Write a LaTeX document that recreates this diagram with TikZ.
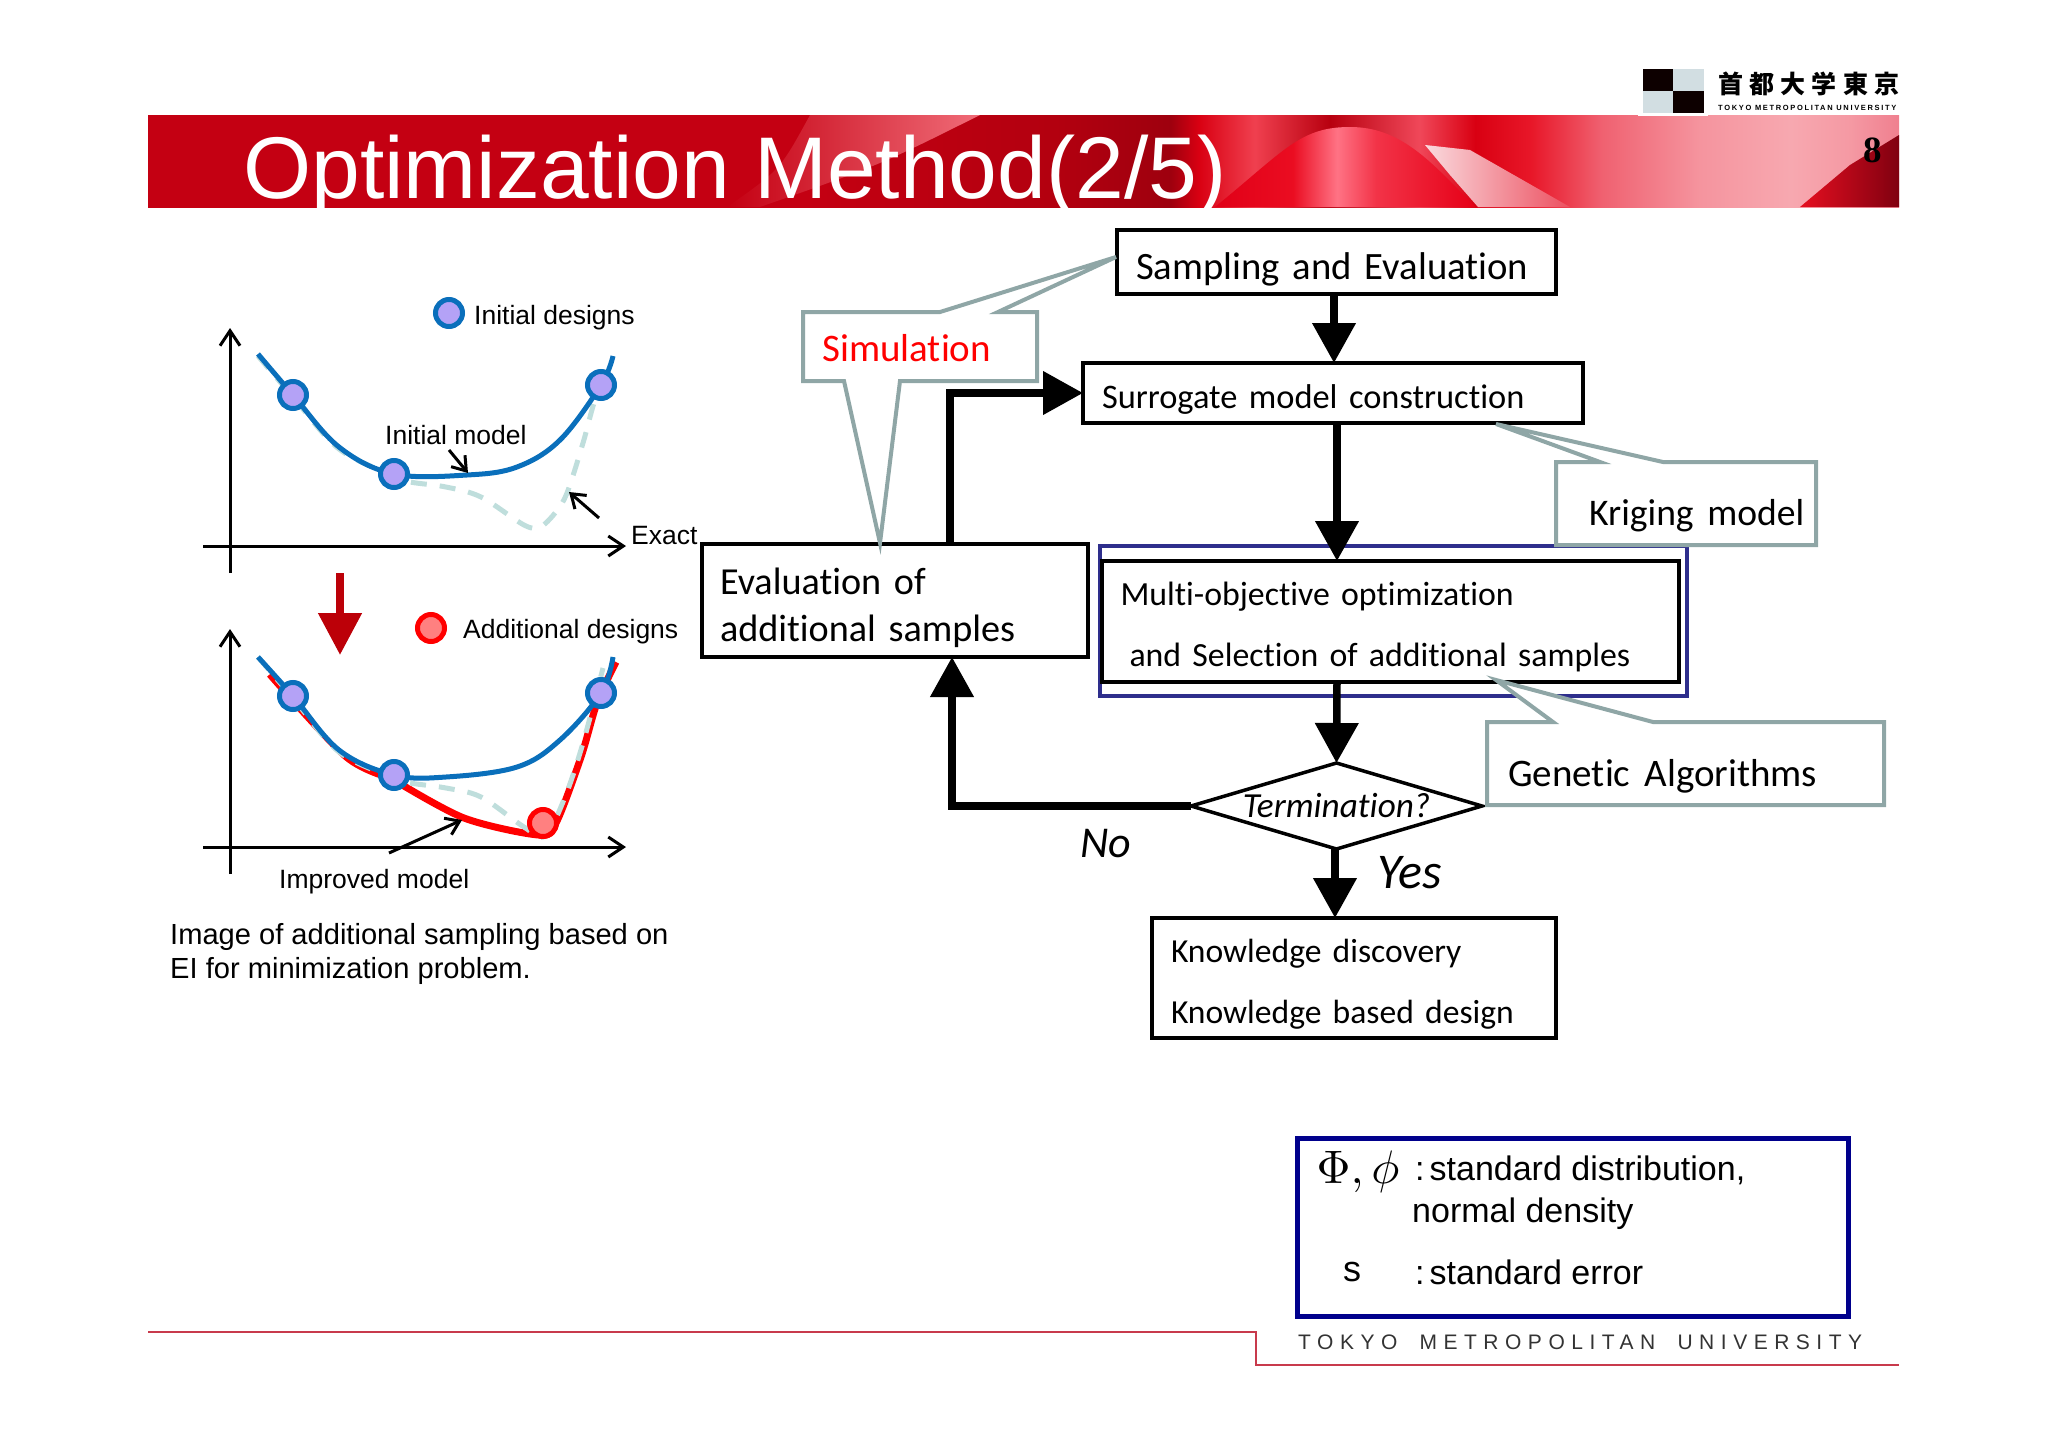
\documentclass[tikz,border=0pt]{standalone}
\usepackage{fontspec}
\setmainfont{Liberation Sans}
\newfontfamily\flowfont[WordSpace=1.6,Ligatures=CommonOff]{Carlito}
\newfontfamily\cjkfont{Noto Sans CJK JP}
\newfontfamily\serifbold{Liberation Serif}
\newfontfamily\footfont[LetterSpace=31,WordSpace=1.8]{Liberation Sans}
\usetikzlibrary{arrows.meta,shapes.geometric}
\newcommand{\fsz}[1]{\fontsize{#1}{#1}\selectfont}
\newcommand{\lowstrut}[1]{\rule{0pt}{#1pt}}
\definecolor{calloutgray}{HTML}{8FA6A6}
\definecolor{curveblue}{HTML}{0A6FBB}
\definecolor{ptfill}{HTML}{B4A2F6}
\definecolor{exactdash}{HTML}{BFDEDC}
\definecolor{framenavy}{HTML}{2E2E8C}
\definecolor{boxnavy}{HTML}{00008C}
\definecolor{downred}{HTML}{BC0008}
\definecolor{footred}{HTML}{C83A4C}
\definecolor{lightlogo}{HTML}{D2DEE2}
\definecolor{bandred}{HTML}{C40012}
\definecolor{wavepink}{HTML}{F06C78}
\definecolor{streakwhite}{HTML}{FADADE}
\definecolor{streakred}{HTML}{EC5060}
\definecolor{cornerred}{HTML}{E60F20}
\definecolor{cornerdark}{HTML}{800010}
\pgfdeclarehorizontalshading{bandshade}{100bp}{
 rgb(0bp)=(0.77,0,0.07);
 rgb(43.6bp)=(0.77,0,0.07);
 rgb(51bp)=(0.70,0,0.06);
 rgb(54.2bp)=(0.62,0,0.055);
 rgb(55bp)=(0.85,0,0.07);
 rgb(56.6bp)=(0.94,0.25,0.31);
 rgb(58.75bp)=(0.72,0,0.06);
 rgb(61.3bp)=(0.94,0.28,0.35);
 rgb(62.9bp)=(0.85,0,0.07);
 rgb(64.5bp)=(0.91,0.09,0.16);
 rgb(66.5bp)=(0.94,0.38,0.44);
 rgb(69.3bp)=(0.96,0.58,0.62);
 rgb(71.9bp)=(0.97,0.66,0.69);
 rgb(73.6bp)=(0.96,0.60,0.64);
 rgb(75bp)=(0.94,0.50,0.56);
 rgb(100bp)=(0.94,0.50,0.56)}
\pgfdeclarehorizontalshading{humpshade}{100bp}{
 rgb(0bp)=(0.88,0,0.09);
 rgb(25bp)=(0.88,0,0.09);
 rgb(40bp)=(0.92,0.05,0.13);
 rgb(48.5bp)=(1,0.45,0.52);
 rgb(56bp)=(0.95,0.2,0.28);
 rgb(75bp)=(0.90,0,0.09);
 rgb(100bp)=(0.90,0,0.09)}
\tikzset{
 fbox/.style={draw=black,line width=3.5pt,fill=white,inner sep=0pt,outer sep=0pt,align=left,text=black},
 callout/.style={draw=calloutgray,line width=4pt,fill=white,line join=miter},
 calltext/.style={inner sep=0pt,anchor=west},
 flowarrow/.style={line width=7.5pt,-{Triangle[length=40pt,width=42pt]}},
 axisline/.style={line width=3pt,-{Straight Barb[length=15pt,width=20pt]}},
 noteline/.style={line width=3pt,-{Straight Barb[length=13pt,width=18pt]}},
 labeltext/.style={inner sep=0pt,anchor=west,font=\fsz{26.5}},
 bluecurve/.style={draw=curveblue,line width=5pt},
 redcurve/.style={draw=red,line width=7pt},
 exactcurve/.style={draw=exactdash,line width=5pt,dash pattern=on 16pt off 13pt},
 initpt/.style={circle,draw=curveblue,fill=ptfill,line width=5pt,minimum size=27pt,inner sep=0pt},
 addpt/.style={circle,draw=red,fill=red!50!white,line width=5pt,minimum size=27pt,inner sep=0pt},
 infotext/.style={inner sep=0pt,anchor=west,font=\fsz{34}},
}
\begin{document}
\begin{tikzpicture}[x=1pt,y=-1pt]
\useasboundingbox (0,0) rectangle (2048,1448);
% header band
\begin{scope}
\clip (148,115) rectangle (1899,207);
\shade[shading=bandshade] (148,115) rectangle (1899,207);
\shade[left color=bandred,right color=wavepink] (727,207) .. controls (780,170) .. (810,115) -- (980,115) .. controls (880,165) .. (760,207) -- cycle;
\shade[shading=humpshade] (1215,207) .. controls (1285,150) and (1300,127) .. (1350,127) .. controls (1400,127) and (1430,160) .. (1475,207) -- cycle;
\shade[left color=streakwhite,right color=streakred] (1425,145) -- (1470,150) -- (1570,207) -- (1478,207) -- (1450,175) -- cycle;
\shade[left color=cornerred,right color=cornerdark] (1800,207) -- (1850,165) -- (1899,135) -- (1899,207) -- cycle;
\end{scope}
\node[inner sep=0pt,anchor=base west,text=white,font=\fsz{87.6}] (title) at (243,198) {Optimization Method(2/5)};
\node[inner sep=0pt,text=black,font=\serifbold\bfseries\fsz{37}] (pageno) at (1873,150) {8};
% logo
\fill[white] (1638,66) rectangle (1708,116);
\fill[black!95!red] (1643,69) rectangle (1673,91);
\fill[lightlogo] (1673,69) rectangle (1704,91);
\fill[lightlogo] (1643,91) rectangle (1673,113);
\fill[black!95!red] (1673,91) rectangle (1704,113);
\node[inner sep=0pt,anchor=west,font=\cjkfont\bfseries\fsz{25}] (logoja) at (1718,84) {\addfontfeature{LetterSpace=25}首都大学東京};
\node[inner sep=0pt,anchor=west,font=\bfseries\fsz{7.5}] (logoen) at (1718,108) {\addfontfeature{LetterSpace=22}TOKYO METROPOLITAN UNIVERSITY};
% upper chart
\coordinate (ya1) at (230,573); \coordinate (yb1) at (230,328);
\coordinate (xa1) at (203,546); \coordinate (xb1) at (626,546);
\draw[axisline] (ya1) -- (yb1);
\draw[axisline] (xa1) -- (xb1);
\draw[exactcurve] plot[smooth,tension=.55] coordinates {(258,356) (293,397) (339,449) (394,476) (410,482) (446,487) (481,497) (524,525) (540,527) (555,513) (567,493) (583,443) (594,403) (606,372)};
\draw[bluecurve] plot[smooth,tension=.6] coordinates {(258,354) (293,395) (339,447) (394,474) (467,475) (517,467) (560,440) (601,385) (613,356)};
\node[initpt] (a1) at (293,395) {};
\node[initpt] (a2) at (394,474) {};
\node[initpt] (a3) at (601,385) {};
\node[initpt] (legi) at (449,313) {};
\node[labeltext] (legitext) at (474,318) {Initial designs};
\node[labeltext] (imodel) at (385,435) {Initial model};
\coordinate (imtip) at (468,473); \coordinate (imtail) at (449,450);
\draw[noteline] (imtail) -- (imtip);
\coordinate (extip) at (569,492); \coordinate (extail) at (599,518);
\draw[noteline] (extail) -- (extip);
\node[labeltext] (exact) at (631,536) {Exact};
% red down arrow
\coordinate (rda) at (340,573); \coordinate (rdb) at (340,655);
\draw[downred,line width=8pt,-{Triangle[length=42pt,width=42pt]}] (rda) -- (rdb);
% lower chart
\coordinate (ya2) at (230,874); \coordinate (yb2) at (230,629);
\coordinate (xa2) at (203,847); \coordinate (xb2) at (626,847);
\draw[axisline] (ya2) -- (yb2);
\draw[axisline] (xa2) -- (xb2);
\draw[redcurve,line width=5pt] plot[smooth,tension=.5] coordinates {(269,675) (346,758) (394,780)};
\draw[redcurve] plot[smooth,tension=.5] coordinates {(394,780) (464,818) (539,835) (556,823) (581,757) (597,703) (616,662)};
\draw[exactcurve] plot[smooth,tension=.55] coordinates {(258,657) (293,698) (339,752) (394,778) (410,783) (446,788) (481,797) (524,827) (545,836) (565,797) (583,743) (603,668)};
\draw[bluecurve] plot[smooth,tension=.6] coordinates {(258,657) (293,696) (339,750) (394,775) (446,777) (517,767) (560,740) (601,693) (613,657)};
\node[initpt] (b1) at (293,696) {};
\node[initpt] (b2) at (394,775) {};
\node[initpt] (b3) at (601,693) {};
\node[addpt] (b4) at (543,823) {};
\node[addpt] (lega) at (431,628) {};
\node[labeltext] (legatext) at (463,632) {Additional designs};
\coordinate (imptail) at (389,853); \coordinate (imptip) at (462,820);
\draw[noteline] (imptail) -- (imptip);
\node[labeltext] (impmodel) at (279,882) {Improved model};
\node[labeltext,font=\fsz{29.1}] (cap1) at (170,937) {Image of additional sampling based on};
\node[labeltext,font=\fsz{29.1}] (cap2) at (170,971) {EI for minimization problem.};
% flow boxes
\node[draw=framenavy,line width=4pt,minimum width=587pt,minimum height=150pt,inner sep=0pt] (frame) at (1393.5,621) {};
\node[fbox,minimum width=439pt,minimum height=64pt,text width=401pt,font=\flowfont\fsz{38.7}] (samp) at (1336.5,262) {\lowstrut{41}Sampling and Evaluation};
\node[fbox,minimum width=500pt,minimum height=60pt,text width=462pt,font=\flowfont\fsz{34.4}] (surr) at (1333,393) {\lowstrut{36}Surrogate model construction};
\node[fbox,minimum width=386pt,minimum height=113pt,text width=350pt,font=\flowfont\fontsize{38.2}{47}\selectfont] (eval) at (895,600.5) {\lowstrut{41}Evaluation of\\additional samples};
\node[fbox,minimum width=577pt,minimum height=121pt,text width=540pt,font=\flowfont\fontsize{33.8}{61}\selectfont] (multi) at (1390.5,621.5) {\lowstrut{35}Multi-objective optimization\\\hspace*{9pt}and Selection of additional samples};
\node[diamond,draw=black,line width=3.5pt,fill=white,minimum width=291pt,minimum height=86pt,aspect=3.38,inner sep=0pt,outer sep=0pt] (term) at (1336.5,806) {\makebox[0pt]{\smash{\raisebox{-11pt}{\flowfont\fsz{35.2}\itshape Termination?}}}};
\node[fbox,minimum width=404pt,minimum height=120pt,text width=366pt,font=\flowfont\fontsize{33.6}{61}\selectfont] (know) at (1354,978) {\lowstrut{35}Knowledge discovery\\Knowledge based design};
% callouts
\draw[callout] (803,312) -- (940,312) -- (1116,257) -- (998,312) -- (1037,312) -- (1037,381) -- (900,381) -- (880,543) -- (844,381) -- (803,381) -- cycle;
\node[calltext,text=red,font=\flowfont\fsz{39}] (sim) at (822,348) {Simulation};
\draw[callout] (1556,462) -- (1600,462) -- (1496,424) -- (1663,462) -- (1816,462) -- (1816,545) -- (1556,545) -- cycle;
\node[calltext,font=\flowfont\fsz{37.6}] (krig) at (1589,516) {Kriging model};
\draw[callout] (1487,722) -- (1553,722) -- (1496,680) -- (1653,722) -- (1884,722) -- (1884,805) -- (1487,805) -- cycle;
\node[calltext,font=\flowfont\fsz{39}] (gen) at (1508,776) {Genetic Algorithms};
% flow connectors
\draw[flowarrow] ([xshift=-2.5pt]samp.south) -- ([xshift=1pt]surr.north);
\draw[flowarrow] ([xshift=4pt]surr.south) -- ([xshift=-53.5pt]multi.north);
\draw[flowarrow] ([xshift=-53.5pt]multi.south) -- (term.north);
\draw[flowarrow] ([xshift=-1.5pt]term.south) -- ([xshift=-19pt]know.north);
\draw[flowarrow] ([xshift=55pt]eval.north) |- (surr.west);
\draw[flowarrow] (term.west) -| ([xshift=57pt]eval.south);
\node[inner sep=0pt,font=\flowfont\itshape\fsz{44}] (no) at (1106,844) {No};
\node[inner sep=0pt,font=\flowfont\itshape\fsz{50}] (yes) at (1410,873) {Yes};
% info box
\node[draw=boxnavy,line width=5pt,minimum width=551pt,minimum height=178pt,inner sep=0pt] (info) at (1572.5,1227.5) {};
\node[scale=4.7,inner sep=0pt] (sym) at (1358,1172) {$\Phi,\phi$};
\node[infotext] (l1) at (1415,1170) {:\hspace{5pt}standard distribution,};
\node[infotext] (l2) at (1412,1214) {normal density};
\node[infotext,font=\fsz{36}] (ss) at (1343,1272) {s};
\node[infotext] (l3) at (1415,1272) {:\hspace{5pt}standard error};
% footer
\coordinate (f1) at (148,1332); \coordinate (f2) at (1256,1332); \coordinate (f3) at (1256,1365); \coordinate (f4) at (1899,1365);
\draw[footred,line width=2.2pt] (f1) -- (f2) -- (f3) -- (f4);
\node[inner sep=0pt,anchor=west,text=black!80,font=\footfont\fsz{21}] (foot) at (1298,1342) {TOKYO METROPOLITAN UNIVERSITY};
\end{tikzpicture}
\end{document}
